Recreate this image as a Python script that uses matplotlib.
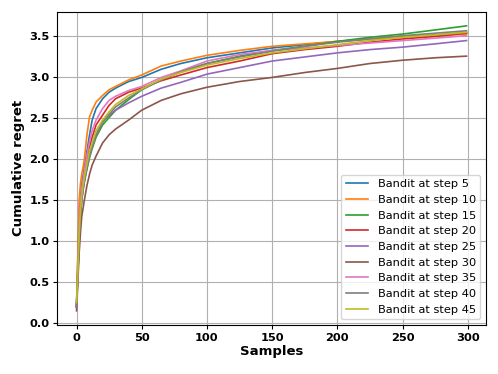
import matplotlib
matplotlib.use('Agg')
from matplotlib import pyplot as plt
import numpy as np

# sample positions
samples = [0, 1, 2, 3, 4, 5, 6, 8, 10, 12, 15, 20, 25, 30, 40, 50, 65, 80,
           100, 125, 150, 175, 200, 225, 250, 275, 299]

step5 = [0.2, 0.75, 1.3, 1.55, 1.7, 1.8, 1.9, 2.1, 2.3, 2.48, 2.62, 2.74, 2.82, 2.87,
         2.95, 3.0, 3.1, 3.17, 3.24, 3.3, 3.36, 3.4, 3.44, 3.47, 3.5, 3.52, 3.55]
step10 = [0.2, 0.85, 1.5, 1.7, 1.82, 1.9, 2.0, 2.3, 2.52, 2.6, 2.7, 2.78, 2.85, 2.89,
          2.97, 3.03, 3.14, 3.2, 3.27, 3.33, 3.38, 3.41, 3.44, 3.47, 3.49, 3.51, 3.53]
step15 = [0.2, 0.6, 1.0, 1.3, 1.5, 1.62, 1.72, 1.88, 2.02, 2.13, 2.27, 2.42, 2.51, 2.6,
          2.73, 2.85, 2.97, 3.07, 3.17, 3.26, 3.33, 3.38, 3.44, 3.49, 3.53, 3.58, 3.63]
step20 = [0.2, 0.65, 1.12, 1.42, 1.6, 1.72, 1.82, 2.0, 2.15, 2.27, 2.42, 2.54, 2.66, 2.74,
          2.82, 2.87, 2.96, 3.03, 3.12, 3.2, 3.29, 3.34, 3.38, 3.43, 3.47, 3.5, 3.54]
step25 = [0.2, 0.6, 1.0, 1.3, 1.5, 1.63, 1.73, 1.9, 2.05, 2.16, 2.3, 2.46, 2.54, 2.6,
          2.69, 2.77, 2.87, 2.94, 3.04, 3.12, 3.2, 3.25, 3.3, 3.34, 3.37, 3.41, 3.45]
step30 = [0.15, 0.5, 0.85, 1.1, 1.3, 1.4, 1.5, 1.68, 1.82, 1.93, 2.04, 2.2, 2.3, 2.37,
          2.48, 2.6, 2.72, 2.8, 2.88, 2.95, 3.0, 3.06, 3.11, 3.17, 3.21, 3.24, 3.26]
step35 = [0.2, 0.7, 1.2, 1.48, 1.64, 1.75, 1.85, 2.05, 2.22, 2.35, 2.48, 2.62, 2.72, 2.77,
          2.84, 2.89, 3.0, 3.08, 3.2, 3.28, 3.33, 3.36, 3.39, 3.42, 3.45, 3.48, 3.51]
step40 = [0.2, 0.6, 1.02, 1.33, 1.52, 1.64, 1.74, 1.9, 2.05, 2.16, 2.3, 2.45, 2.55, 2.64,
          2.75, 2.85, 2.97, 3.07, 3.17, 3.25, 3.32, 3.38, 3.43, 3.47, 3.51, 3.54, 3.57]
step45 = [0.25, 0.65, 1.08, 1.38, 1.56, 1.68, 1.78, 1.95, 2.1, 2.2, 2.35, 2.48, 2.58, 2.67,
          2.78, 2.86, 2.98, 3.06, 3.15, 3.23, 3.3, 3.35, 3.4, 3.45, 3.49, 3.52, 3.55]

series = [step5, step10, step15, step20, step25, step30, step35, step40, step45]
labels = ['Bandit at step %d' % s for s in range(5, 50, 5)]

fig = plt.figure(figsize=(4.98, 3.74), dpi=100)
ax = fig.add_axes([0.1145, 0.131, 0.8615, 0.838])
for vals, lab in zip(series, labels):
    ax.plot(samples, vals, label=lab, linewidth=1.2)

ax.grid(True, color='#b0b0b0', linewidth=0.8)
ax.set_xlabel('Samples', fontsize=9.5, fontweight='bold', labelpad=2)
ax.set_ylabel('Cumulative regret', fontsize=9.5, fontweight='bold', labelpad=3)
ax.set_xticks([0, 50, 100, 150, 200, 250, 300])
ax.set_yticks(np.arange(0, 3.6, 0.5))
for lab in ax.get_xticklabels() + ax.get_yticklabels():
    lab.set_fontweight('bold')
    lab.set_fontsize(8.2)
ax.tick_params(length=3, pad=2.5)
ax.legend(loc='lower right', fontsize=8.2)
fig.savefig('out.png', dpi=100)
